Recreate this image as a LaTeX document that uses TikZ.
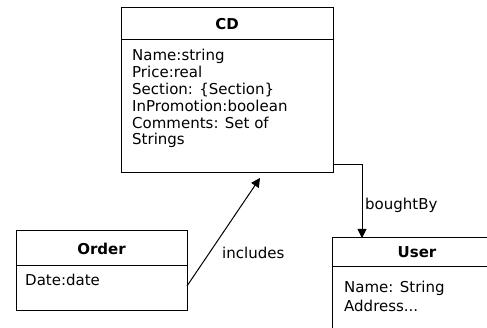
\documentclass[tikz,border=0pt]{standalone}
\usepackage{fontspec}
\setmainfont{DejaVu Sans}
\usetikzlibrary{arrows.meta}
\tikzset{
  umlbox/.style={draw=black, line width=1pt, rectangle, anchor=north west, inner sep=0pt, outer sep=0pt},
  divider/.style={draw=black, line width=1pt},
  attr/.style={anchor=base west, inner sep=0pt, font=\fontsize{15}{16.8}\selectfont},
  title/.style={anchor=center, inner sep=0pt, font=\fontsize{15}{16.8}\selectfont\bfseries},
  lbl/.style={anchor=west, inner sep=0pt, font=\fontsize{15}{16.8}\selectfont},
  conn/.style={draw=black, line width=1pt, -{Triangle[length=9pt,width=9pt]}},
}
\begin{document}
\begin{tikzpicture}[x=1pt,y=-1pt]
\useasboundingbox (0,0) rectangle (487,328);
\clip (0,0) rectangle (487,328);
% CD
\node[umlbox, minimum width=212pt, minimum height=165pt] (CD) at (121,8) {};
\draw[divider] (121,40) -- (333,40);
\node[title] (cdt) at (227,24) {CD};
\node[attr] (cd1) at (132,61) {Name:string};
\node[attr] (cd2) at (132,77.8) {Price:real};
\node[attr] (cd3) at (132,94.6) {Section: \{Section\}};
\node[attr] (cd4) at (132,111.4) {InPromotion:boolean};
\node[attr] (cd5) at (132,128.2) {Comments: Set of};
\node[attr] (cd6) at (132,145) {Strings};
% Order
\node[umlbox, minimum width=171pt, minimum height=80pt] (Order) at (16,231) {};
\draw[divider] (16,266) -- (187,266);
\node[title] (ordt) at (101.5,249) {Order};
\node[attr] (ord1) at (25,286) {Date:date};
% User
\node[umlbox, minimum width=170pt, minimum height=110pt] (User) at (332,238) {};
\draw[divider] (332,267) -- (502,267);
\node[title] (usrt) at (417,252) {User};
\node[attr] (usr1) at (344,293) {Name: String};
\node[attr] (usr2) at (344,312) {Address...};
% connectors
\coordinate (cdout) at ([yshift=8pt]CD.south east);
\coordinate (usrin) at ([xshift=30pt]User.north west);
\draw[conn] (cdout) -| (usrin);
\node[lbl] (bb) at (365,205) {boughtBy};
\coordinate (ordout) at ([yshift=-15pt]Order.east);
\coordinate (cdin) at ([xshift=139pt,yshift=-5pt]CD.south west);
\draw[conn] (ordout) -- (cdin);
\node[lbl] (inc) at (222,253) {includes};
\end{tikzpicture}
\end{document}
